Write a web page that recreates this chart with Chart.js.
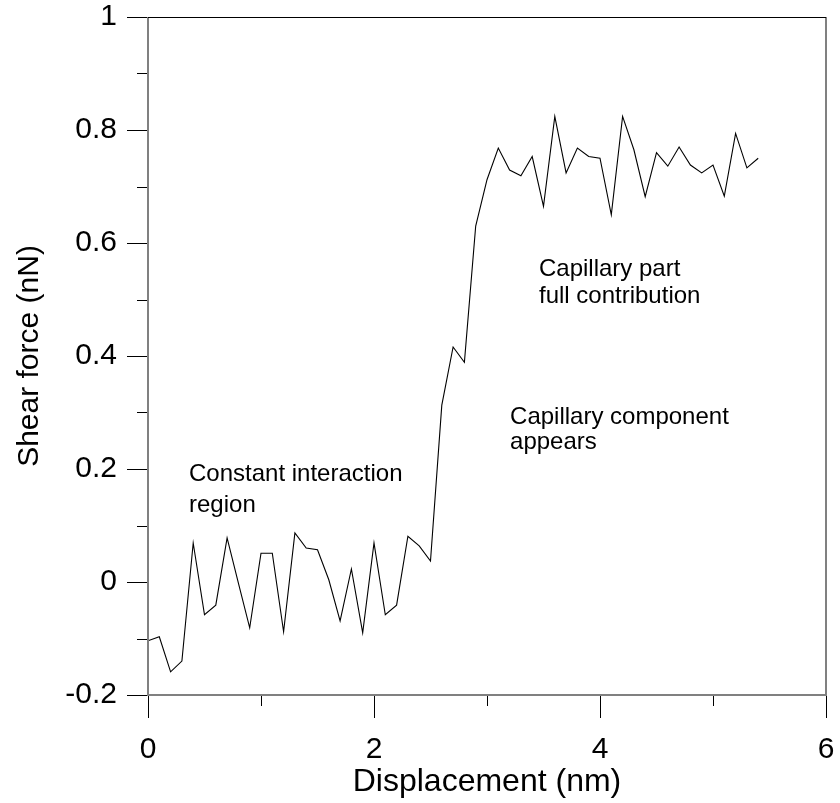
<!DOCTYPE html>
<html><head><meta charset="utf-8">
<script src="https://cdn.jsdelivr.net/npm/chart.js@4.4.1/dist/chart.umd.min.js"></script>
<style>html,body{margin:0;padding:0;background:#fff;overflow:hidden}#wrap{width:840px;height:803px}</style>
</head><body><div id="wrap"><canvas id="c" width="840" height="803"></canvas></div>
<script>
// ---- data ----
const displacement = [0,0.1,0.2,0.3,0.4,0.5,0.6,0.7,0.8,0.9,1.0,1.1,1.2,1.3,1.4,1.5,1.6,1.7,1.8,1.9,2.0,2.1,2.2,2.3,2.4,2.5,2.6,2.7,2.8,2.9,3.0,3.1,3.2,3.3,3.4,3.5,3.6,3.7,3.8,3.9,4.0,4.1,4.2,4.3,4.4,4.5,4.6,4.7,4.8,4.9,5.0,5.1,5.2,5.3,5.4];
const shearForce = [-0.104,-0.097,-0.159,-0.140,0.069,-0.058,-0.041,0.078,-0.002,-0.081,0.051,0.051,-0.088,0.087,0.060,0.057,0.004,-0.069,0.023,-0.090,0.069,-0.058,-0.041,0.081,0.064,0.037,0.313,0.416,0.389,0.630,0.712,0.768,0.729,0.719,0.753,0.665,0.824,0.724,0.768,0.753,0.750,0.650,0.824,0.765,0.682,0.760,0.736,0.770,0.738,0.724,0.738,0.683,0.794,0.733,0.750];
const xTickValues = [0,2,4,6];
const xTickLabels = ['0','2','4','6'];
const xMinorTicks = [1,3,5];
const yTickValues = [-0.2,0,0.2,0.4,0.6,0.8,1];
const yTickLabels = ['-0.2','0','0.2','0.4','0.6','0.8','1'];
const yMinorTicks = [-0.1,0.1,0.3,0.5,0.7,0.9];
const xTitle = 'Displacement (nm)';
const yTitle = 'Shear force (nN)';
const noteLines = [
  ['Constant interaction', 0.363, 0.179],
  ['region', 0.363, 0.124],
  ['Capillary part', 3.46, 0.542],
  ['full contribution', 3.46, 0.494],
  ['Capillary component', 3.204, 0.280],
  ['appears', 3.204, 0.235]
];
// --------------------------------------

const FONT = '"Liberation Sans", Arial, sans-serif';
const points = displacement.map((x, i) => ({x: x, y: shearForce[i]}));

const framePlugin = {
  id: 'frame',
  afterDraw(chart) {
    const ctx = chart.ctx;
    const a = chart.chartArea;
    const xs = chart.scales.x, ys = chart.scales.y;
    ctx.save();
    ctx.strokeStyle = '#000';
    ctx.lineWidth = 1;
    ctx.beginPath();
    yTickValues.forEach(v => { const p = Math.round(ys.getPixelForValue(v)) + 0.5; ctx.moveTo(a.left - 21, p); ctx.lineTo(a.left, p); });
    yMinorTicks.forEach(v => { const p = Math.round(ys.getPixelForValue(v)) + 0.5; ctx.moveTo(a.left - 11, p); ctx.lineTo(a.left, p); });
    xTickValues.forEach(v => { const p = Math.round(xs.getPixelForValue(v)) + 0.5; ctx.moveTo(p, a.bottom); ctx.lineTo(p, a.bottom + 23); });
    xMinorTicks.forEach(v => { const p = Math.round(xs.getPixelForValue(v)) + 0.5; ctx.moveTo(p, a.bottom); ctx.lineTo(p, a.bottom + 11); });
    ctx.stroke();
    ctx.strokeStyle = '#808080';
    ctx.lineWidth = 2;
    ctx.beginPath();
    ctx.moveTo(a.left, a.top); ctx.lineTo(a.left, a.bottom); ctx.lineTo(a.right, a.bottom); ctx.lineTo(a.right, a.top);
    ctx.stroke();
    ctx.strokeStyle = '#000';
    ctx.lineWidth = 1;
    ctx.beginPath();
    ctx.moveTo(a.left, a.top + 0.5); ctx.lineTo(a.right, a.top + 0.5);
    ctx.stroke();
    ctx.fillStyle = '#000';
    ctx.font = '24px ' + FONT;
    ctx.textAlign = 'left';
    ctx.textBaseline = 'alphabetic';
    noteLines.forEach(n => ctx.fillText(n[0], xs.getPixelForValue(n[1]), ys.getPixelForValue(n[2])));
    ctx.restore();
  }
};

new Chart(document.getElementById('c'), {
  type: 'line',
  data: { datasets: [{ data: points, borderColor: '#000', borderWidth: 1.1, pointRadius: 0, tension: 0, fill: false }] },
  options: {
    responsive: false, animation: false, devicePixelRatio: 1,
    layout: { padding: { left: 0, top: 17, right: 14, bottom: 0 } },
    plugins: { legend: { display: false }, tooltip: { enabled: false } },
    scales: {
      x: {
        type: 'linear', min: 0, max: 6,
        afterBuildTicks: s => { s.ticks = xTickValues.map(v => ({value: v})); },
        afterFit: s => { s.height = 108; s.paddingLeft = 0; s.paddingRight = 0; },
        ticks: { callback: (v, i) => xTickLabels[i], color: '#000', font: { family: FONT, size: 30 }, padding: 37, maxRotation: 0 },
        grid: { display: false, drawTicks: false },
        border: { display: false },
        title: { display: true, text: xTitle, color: '#000', font: { family: FONT, size: 32 }, padding: { top: 0, bottom: 2 } }
      },
      y: {
        type: 'linear', min: -0.2, max: 1,
        afterBuildTicks: s => { s.ticks = yTickValues.map(v => ({value: v})); },
        afterFit: s => { s.width = 148; s.paddingTop = 0; s.paddingBottom = 0; },
        ticks: { callback: (v, i) => yTickLabels[i], color: '#000', font: { family: FONT, size: 30 }, padding: 31 },
        grid: { display: false, drawTicks: false },
        border: { display: false },
        title: { display: true, text: yTitle, color: '#000', font: { family: FONT, size: 30 }, padding: { top: 12, bottom: 0 } }
      }
    }
  },
  plugins: [framePlugin]
});
</script></body></html>
